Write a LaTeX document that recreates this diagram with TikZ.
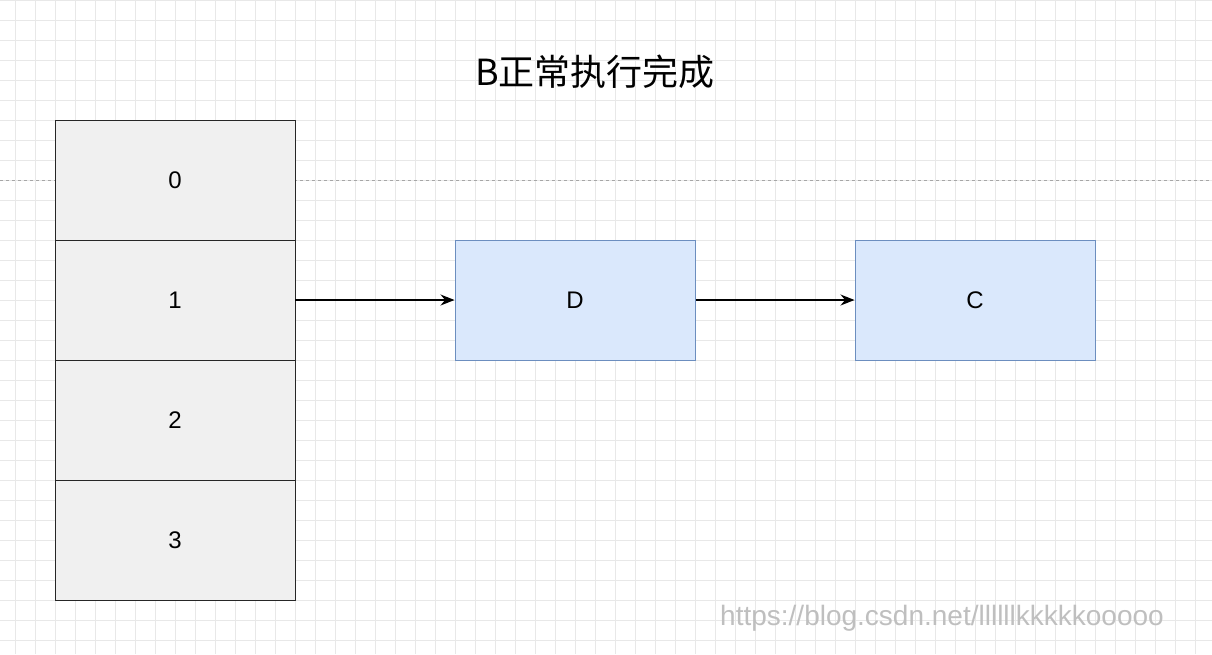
\documentclass[tikz,border=0pt]{standalone}
\usepackage{fontspec}
\usetikzlibrary{arrows.meta}
\setmainfont{Liberation Sans}
\newfontfamily\cjk{Noto Sans CJK SC}
\definecolor{bfill}{HTML}{DAE8FC}
\definecolor{bline}{HTML}{6C8EBF}
\begin{document}
\begin{tikzpicture}[x=1pt,y=-1pt,
  cell/.style={draw=black!85,fill=black!6,minimum width=240pt,minimum height=120pt,inner sep=0pt,font=\fontsize{24}{26}\selectfont},
  blue box/.style={draw=bline,fill=bfill,line width=1pt,minimum width=240pt,minimum height=120pt,inner sep=0pt,font=\fontsize{24}{26}\selectfont},
  conn/.style={-{Stealth[length=14pt,width=11pt]},line width=1.2pt}]
\useasboundingbox (0,0) rectangle (1212,654);
\fill[white] (0,0) rectangle (1212,654);
\foreach \x in {15,35,...,1212} \draw[black!9,line width=0.6pt] (\x,0) -- (\x,654);
\foreach \y in {0,20,...,654} \draw[black!9,line width=0.6pt] (0,\y) -- (1212,\y);
\draw[black!35,dashed,line width=0.8pt] (0,180) -- (1212,180);
\node[font=\cjk\fontsize{36}{40}\selectfont] (title) at (595,72) {B正常执行完成};
\node[cell] (c0) at (175,180) {0};
\node[cell] (c1) at (175,300) {1};
\node[cell] (c2) at (175,420) {2};
\node[cell] (c3) at (175,540) {3};
\node[blue box] (d) at (575,300) {D};
\node[blue box] (c) at (975,300) {C};
\draw[conn] (c1) -- (d);
\draw[conn] (d) -- (c);
\node[text=black!25,font=\fontsize{28}{30}\selectfont] (wm) at (942,618) {https://blog.csdn.net/llllllkkkkkooooo};
\end{tikzpicture}
\end{document}
